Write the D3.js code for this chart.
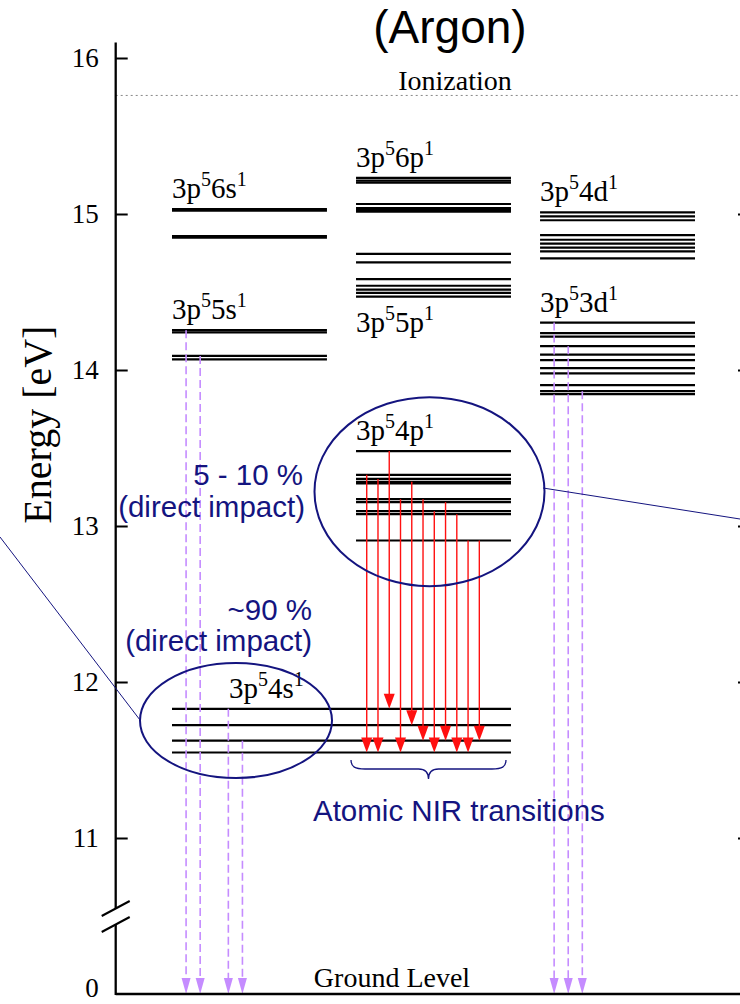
<!DOCTYPE html>
<html>
<head>
<meta charset="utf-8">
<script src="https://cdn.jsdelivr.net/npm/d3@7"></script>
<style>
  body { margin: 0; background: #fff; }
  .serif { font-family: "Liberation Serif", "Times New Roman", serif; }
  .sans { font-family: "Liberation Sans", Arial, sans-serif; }
</style>
</head>
<body>
<div id="chart"></div>
<script>
const width = 740;
const height = 1004;

// energy levels of argon (eV), one array per configuration
const ionization = 15.76;
const levels4s = [11.548, 11.624, 11.723, 11.828];
const levels5s = [14.068, 14.090, 14.241, 14.255];
const levels6s = [14.848, 14.859, 15.022, 15.031];
const levels4p = [12.907, 13.076, 13.095, 13.153, 13.172, 13.273, 13.283, 13.302, 13.328, 13.480];
const levels5p = [14.470, 14.494, 14.515, 14.540, 14.583, 14.690, 14.744];
const levels6p = [15.015, 15.026, 15.038, 15.064, 15.201, 15.214, 15.231];
const levels3d = [13.845, 13.864, 13.903, 13.979, 14.012, 14.063, 14.099, 14.153, 14.214, 14.236, 14.304];
const levels4d = [14.715, 14.760, 14.785, 14.810, 14.835, 14.865, 14.960, 14.985, 15.010];

// NIR transitions 4p -> 4s
const nirFrom = [13.328, 13.302, 13.480, 13.172, 13.283, 13.172, 13.095, 13.153, 13.076, 12.907, 12.907];
const nirTo   = [11.548, 11.548, 11.828, 11.548, 11.723, 11.624, 11.548, 11.624, 11.548, 11.548, 11.624];

// resonant decays to ground level (start energy, slot in column)
const resonantS = [14.255, 14.090, 11.828, 11.624];
const resonantSSlot = [1, 2, 4, 5];
const resonantD = [14.304, 14.153, 13.864];
const resonantDSlot = [1, 2, 3];

const yTicks = [0, 11, 12, 13, 14, 15, 16];
const rightTicks = [11, 12, 13, 14, 15];

const svg = d3.select("#chart")
  .append("svg")
  .attr("width", width)
  .attr("height", height);

// broken axis: 0 sits where 10 would be
const y = d3.scaleLinear()
  .domain([0, 11, 16])
  .range([994, 838, 58]);

const x = d3.scaleBand()
  .domain(["s", "p", "d"])
  .range([172, 695])
  .paddingInner(0.158)
  .paddingOuter(0);

const bw = x.bandwidth();
const slot = d3.scaleLinear().domain([0, 11]).range([0, bw]);
const nirX = d3.scalePoint()
  .domain(d3.range(nirFrom.length))
  .range([x("p") + 10.7, x("p") + 123.3]);

const axisX = 115.7;
const navy = "#14147f";
const purple = "#c58cff";

// ionization limit
svg.append("line")
  .attr("x1", axisX).attr("x2", width)
  .attr("y1", y(ionization)).attr("y2", y(ionization))
  .attr("stroke", "#888")
  .attr("stroke-width", 1)
  .attr("stroke-dasharray", "2,3");

svg.append("text")
  .attr("class", "serif")
  .attr("x", 455).attr("y", y(ionization) - 5)
  .attr("text-anchor", "middle")
  .attr("font-size", 28)
  .text("Ionization");

// level groups
const groups = [
  { levels: levels4s, col: "s", span: 2, label: ["4s", "1"], dx: 57, below: false },
  { levels: levels5s, col: "s", span: 1, label: ["5s", "1"], dx: 0, below: false },
  { levels: levels6s, col: "s", span: 1, label: ["6s", "1"], dx: 0, below: false },
  { levels: levels4p, col: "p", span: 1, label: ["4p", "1"], dx: 0, below: false },
  { levels: levels5p, col: "p", span: 1, label: ["5p", "1"], dx: 0, below: true },
  { levels: levels6p, col: "p", span: 1, label: ["6p", "1"], dx: 0, below: false },
  { levels: levels3d, col: "d", span: 1, label: ["3d", "1"], dx: 0, below: false },
  { levels: levels4d, col: "d", span: 1, label: ["4d", "1"], dx: 0, below: false }
];

const levelG = svg.append("g");

groups.forEach(g => {
  const x0 = x(g.col);
  const x1 = g.span === 2 ? x("p") + bw : x0 + bw;
  levelG.selectAll(null)
    .data(g.levels)
    .join("line")
      .attr("x1", x0).attr("x2", x1)
      .attr("y1", d => y(d)).attr("y2", d => y(d))
      .attr("stroke", "#000")
      .attr("stroke-width", 2.2);

  const ly = g.below ? y(d3.min(g.levels)) + 35 : y(d3.max(g.levels)) - 11;
  const t = levelG.append("text")
    .attr("class", "serif")
    .attr("x", x0 + g.dx)
    .attr("y", ly)
    .attr("font-size", 29);
  t.append("tspan").text("3p");
  t.append("tspan").attr("font-size", 20).attr("dy", -12).text("5");
  t.append("tspan").attr("dy", 12).text(g.label[0]);
  t.append("tspan").attr("font-size", 20).attr("dy", -12).text(g.label[1]);
});

// resonant decays (dashed purple)
const resonant = resonantS.map((e, i) => ({ e, x: x("s") + slot(resonantSSlot[i]) }))
  .concat(resonantD.map((e, i) => ({ e, x: x("d") + slot(resonantDSlot[i]) })));

svg.selectAll(".res")
  .data(resonant)
  .join("line")
    .attr("class", "res")
    .attr("x1", d => d.x).attr("x2", d => d.x)
    .attr("y1", d => y(d.e)).attr("y2", y(0) - 15)
    .attr("stroke", purple)
    .attr("stroke-width", 1.6)
    .attr("stroke-dasharray", "8,4");

svg.selectAll(".reshead")
  .data(resonant)
  .join("path")
    .attr("class", "reshead")
    .attr("d", d => `M${d.x - 4.5},${y(0) - 16} L${d.x + 4.5},${y(0) - 16} L${d.x},${y(0)} Z`)
    .attr("fill", purple);

// NIR transitions (red)
const nir = nirFrom.map((e, i) => ({ from: e, to: nirTo[i], x: nirX(i) }));

svg.selectAll(".nir")
  .data(nir)
  .join("line")
    .attr("class", "nir")
    .attr("x1", d => d.x).attr("x2", d => d.x)
    .attr("y1", d => y(d.from)).attr("y2", d => y(d.to) - 12)
    .attr("stroke", "#ff1010")
    .attr("stroke-width", 1.4);

svg.selectAll(".nirhead")
  .data(nir)
  .join("path")
    .attr("class", "nirhead")
    .attr("d", d => `M${d.x - 5.5},${y(d.to) - 15} L${d.x + 5.5},${y(d.to) - 15} L${d.x},${y(d.to)} Z`)
    .attr("fill", "#ff1010");

// axes
const axis = svg.append("g")
  .attr("transform", `translate(${axisX},0)`)
  .call(d3.axisLeft(y).tickValues(yTicks).tickSizeInner(-12).tickSizeOuter(0).tickPadding(17));
axis.select(".domain").remove();
axis.selectAll(".tick line").attr("stroke-width", 2);
axis.selectAll(".tick text")
  .attr("class", "serif")
  .attr("font-size", 27)
  .attr("fill", "#000");
const zeroTick = axis.selectAll(".tick").filter(d => d === 0);
zeroTick.select("line").remove();
zeroTick.select("text").attr("dy", "0.1em");

const breakY = y(5.5);
svg.append("line")
  .attr("x1", axisX).attr("x2", axisX)
  .attr("y1", y(16.1)).attr("y2", breakY - 8)
  .attr("stroke", "#000").attr("stroke-width", 2.3);
svg.append("line")
  .attr("x1", axisX).attr("x2", axisX)
  .attr("y1", breakY + 8).attr("y2", y(0) + 1)
  .attr("stroke", "#000").attr("stroke-width", 2.3);
[-8, 8].forEach(o => {
  svg.append("line")
    .attr("x1", axisX - 14).attr("y1", breakY + o + 8)
    .attr("x2", axisX + 14).attr("y2", breakY + o - 7)
    .attr("stroke", "#000").attr("stroke-width", 2);
});

// ground line
svg.append("line")
  .attr("x1", axisX).attr("x2", width)
  .attr("y1", y(0)).attr("y2", y(0))
  .attr("stroke", "#000").attr("stroke-width", 2.5);

svg.append("text")
  .attr("class", "serif")
  .attr("x", 392).attr("y", y(0) - 7)
  .attr("text-anchor", "middle")
  .attr("font-size", 28)
  .text("Ground Level");

const right = svg.append("g")
  .attr("transform", `translate(750,0)`)
  .call(d3.axisRight(y).tickValues(rightTicks).tickSizeInner(-12).tickSizeOuter(0).tickFormat(""));
right.select(".domain").remove();
right.selectAll(".tick line").attr("stroke-width", 2);

svg.append("text")
  .attr("class", "serif")
  .attr("transform", `translate(51,${y(13.65)}) rotate(-90)`)
  .attr("text-anchor", "middle")
  .attr("font-size", 40)
  .text("Energy [eV]");

svg.append("text")
  .attr("class", "sans")
  .attr("x", 450).attr("y", 43)
  .attr("text-anchor", "middle")
  .attr("font-size", 46)
  .text("(Argon)");

// annotations
const ann = svg.append("g")
  .attr("fill", "none")
  .attr("stroke", navy);

ann.append("ellipse")
  .attr("cx", x("p") + bw / 2 - 4).attr("cy", y(13.22))
  .attr("rx", 115).attr("ry", 94.5)
  .attr("stroke-width", 2);

ann.append("ellipse")
  .attr("cx", x("s") + 64).attr("cy", y(11.753))
  .attr("rx", 96).attr("ry", 57.5)
  .attr("stroke-width", 2);

ann.append("line")
  .attr("x1", 543).attr("y1", 488).attr("x2", width).attr("y2", 519)
  .attr("stroke-width", 1);
ann.append("line")
  .attr("x1", 0).attr("y1", 537).attr("x2", 140).attr("y2", 720)
  .attr("stroke-width", 1);

const bx0 = x("p") - 5, bx1 = x("p") + bw - 5, bm = (bx0 + bx1) / 2;
ann.append("path")
  .attr("d", `M${bx0},760 C${bx0},767 ${bx0 + 4},769 ${bx0 + 14},769 L${bm - 10},769 C${bm - 3},769 ${bm},772 ${bm},779
              C${bm},772 ${bm + 3},769 ${bm + 10},769 L${bx1 - 14},769 C${bx1 - 4},769 ${bx1},767 ${bx1},760`)
  .attr("stroke-width", 1.3);

const labels = [
  { t: "5 - 10 %", x: 303, y: 485, anchor: "end" },
  { t: "(direct impact)", x: 305, y: 517, anchor: "end" },
  { t: "~90 %", x: 312, y: 620, anchor: "end" },
  { t: "(direct impact)", x: 312, y: 651, anchor: "end" },
  { t: "Atomic NIR transitions", x: 313, y: 821, anchor: "start" }
];
svg.selectAll(".ann")
  .data(labels)
  .join("text")
    .attr("class", "sans ann")
    .attr("x", d => d.x).attr("y", d => d.y)
    .attr("text-anchor", d => d.anchor)
    .attr("font-size", 29.5)
    .attr("fill", navy)
    .text(d => d.t);
</script>
</body>
</html>
